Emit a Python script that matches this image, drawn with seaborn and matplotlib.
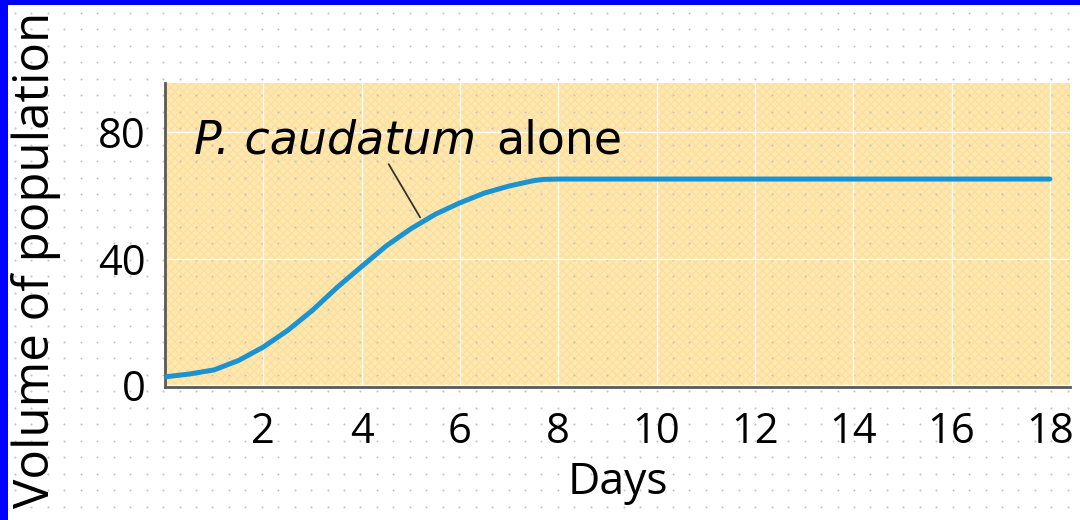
import numpy as np
import matplotlib
matplotlib.use("Agg")
import matplotlib.pyplot as plt
from matplotlib.patches import Rectangle
import seaborn as sns

# ---- data ----
days = [0, 0.5, 1, 1.5, 2, 2.5, 3, 3.5, 4, 4.5, 5, 5.5, 6, 6.5, 7, 7.5, 7.7, 8, 10, 12, 14, 16, 18]
volume = [2.7, 3.6, 4.9, 7.9, 12.1, 17.4, 23.7, 30.9, 37.5, 44.0, 49.4, 54.0, 57.6, 60.7, 62.9, 64.6, 65.0, 65.1,
          65.1, 65.1, 65.1, 65.1, 65.1]
x_ticks = [2, 4, 6, 8, 10, 12, 14, 16, 18]
y_ticks = [0, 40, 80]
species_label = "P. caudatum"
label_rest = "alone"
x_title = "Days"
y_title = "Volume of population"

sns.set_theme(style="white")
plt.rcParams['font.family'] = ['Open Sans', 'DejaVu Sans']

W, H = 1080, 520
fig = plt.figure(figsize=(W / 100, H / 100), dpi=100)
fig.patch.set_facecolor('white')

# plot area in pixels
L, R, T, B = 165, 1070, 83, 387

# background layer: frame, dot pattern, plot-area fill
bg = fig.add_axes([0, 0, 1, 1], zorder=0)
bg.set_xlim(0, W)
bg.set_ylim(H, 0)
bg.axis('off')
bg.add_patch(Rectangle((L, T), R - L, B - T, facecolor='#feeaa8', edgecolor='#fcdcaa',
                       hatch='xxxx', linewidth=0))
gx = np.arange(15, W, 16.45)
gy = np.arange(13, H, 16.45)
GX, GY = np.meshgrid(gx, gy)
bg.scatter(GX.ravel(), GY.ravel(), s=2.2, c='#c4c4c4', linewidths=0, zorder=3)
bg.add_patch(Rectangle((0, 0), W, 5, facecolor='#0000f0', edgecolor='none', zorder=5))
bg.add_patch(Rectangle((0, 0), 8, H, facecolor='#0000ff', edgecolor='none', zorder=5))

ax = fig.add_axes([L / W, 1 - B / H, (R - L) / W, (B - T) / H], zorder=1)
ax.patch.set_alpha(0)

sns.lineplot(x=days, y=volume, ax=ax, color='#1b93d1', linewidth=3.6, zorder=4)

ax.set_xlim(0, 18.41)
ax.set_ylim(-0.5, 95.4)
ax.set_xticks(x_ticks)
ax.set_yticks(y_ticks)
ax.grid(True, color='white', linewidth=1.0, alpha=0.9)
ax.set_axisbelow(True)

for s in ['top', 'right']:
    ax.spines[s].set_visible(False)
for s in ['left', 'bottom']:
    ax.spines[s].set_color('#5a5a5a')
    ax.spines[s].set_linewidth(2.0)

ax.tick_params(axis='both', direction='in', length=8, width=1.6, color='#4a4a4a',
               labelsize=30, labelcolor='black')
ax.tick_params(axis='x', pad=17)
ax.tick_params(axis='y', pad=14)

ax.set_xlabel(x_title, fontsize=32, color='black', va='center')
ax.set_ylabel(y_title, fontsize=30, color='black', va='center')
ax.xaxis.set_label_coords(0.5, -0.316)
ax.yaxis.set_label_coords(-0.143, 0.418)

renderer = fig.canvas.get_renderer()
# fit the y title to the height it occupies in the reference (~500 px)
fig.canvas.draw()
h = ax.yaxis.label.get_window_extent(renderer=renderer).height
ax.yaxis.label.set_fontsize(30 * 496 / h)

t1 = ax.text(0.6, 73.3, species_label, fontsize=33, style='italic', color='black',
             va='baseline', ha='left', zorder=6, family=['DejaVu Sans'])
fig.canvas.draw()
bb = t1.get_window_extent(renderer=renderer)
x_next = ax.transData.inverted().transform((bb.x1 + 20, bb.y0))[0]
ax.text(x_next, 73.3, label_rest, fontsize=33, color='black', va='baseline', ha='left',
        zorder=6, family=['DejaVu Sans'])

ax.plot([4.55, 5.19], [69.8, 53.0], color='#333333', linewidth=1.3, zorder=5)

fig.savefig('out.png', dpi=100)
